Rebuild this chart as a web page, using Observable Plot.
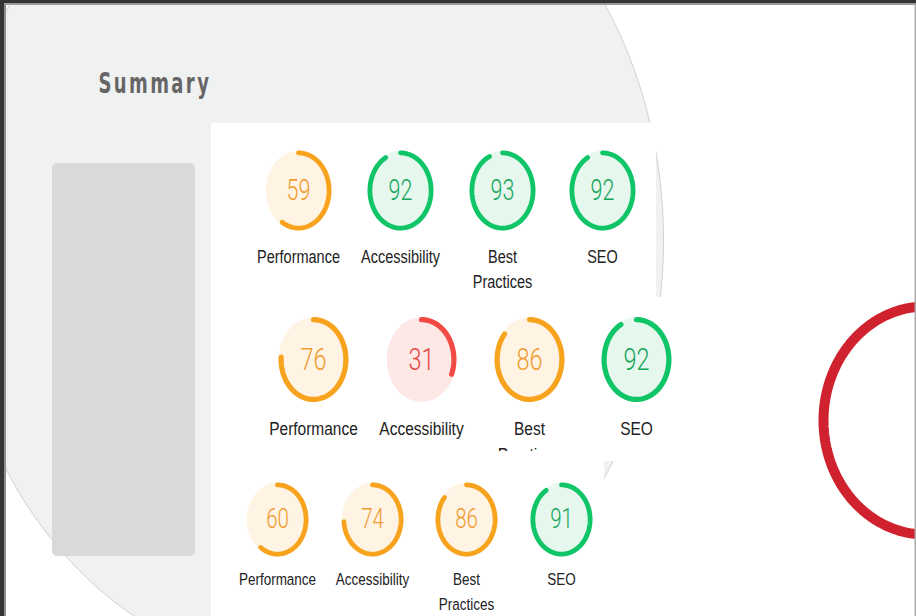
<!DOCTYPE html>
<html><head><meta charset="utf-8">
<script src="https://cdn.jsdelivr.net/npm/d3@7"></script>
<script src="https://cdn.jsdelivr.net/npm/@observablehq/plot@0.6"></script>
<style>html,body{margin:0;padding:0;background:#fff;overflow:hidden}</style>
</head><body><div id="chart"></div>
<script>
// ---- data ----
const title = "Summary";
const categories = ["Performance", "Accessibility", "Best Practices", "SEO"];
const scoresRow1 = [59, 92, 93, 92];
const scoresRow2 = [76, 31, 86, 92];
const scoresRow3 = [60, 74, 86, 91];

// ---- layout / style ----
const W = 916, H = 616;
const K = {title: 1.42, score: 1.33, label: 1.22};   // vertical stretch of the screenshot's text
const rows = [
  {scores: scoresRow1, cx: [298, 400, 502, 602], cy: 190, rx: 33, ry: 40, sw: 4.8, numSize: 21.5, labelSize: 14.5, labelY: 257, gap: 25},
  {scores: scoresRow2, cx: [313, 421, 529, 636], cy: 359, rx: 35, ry: 42.5, sw: 5.2, numSize: 23.5, labelSize: 15.5, labelY: 428, gap: 26},
  {scores: scoresRow3, cx: [277, 372, 466, 561], cy: 519, rx: 31, ry: 37, sw: 4.8, numSize: 20.5, labelSize: 13.5, labelY: 579, gap: 25}
];
const palette = {
  pass: {arc: "#10c468", fill: "#e6f7ee", text: "#15a55a"},
  average: {arc: "#f8a31d", fill: "#fff3e4", text: "#ef9c30"},
  fail: {arc: "#f24a44", fill: "#fde8e6", text: "#e4453f"}
};
const rating = s => s >= 90 ? "pass" : s >= 50 ? "average" : "fail";

function ellipsePts(cx, cy, rx, ry, n = 120, extra = {}) {
  return d3.range(n).map(i => {
    const a = (i / n) * 2 * Math.PI;
    return {x: cx + rx * Math.sin(a), y: cy - ry * Math.cos(a), ...extra};
  });
}
function arcPts(cx, cy, rx, ry, frac, extra = {}) {
  const n = Math.max(2, Math.round(frac * 120));
  return d3.range(n + 1).map(i => {
    const a = (i / n) * frac * 2 * Math.PI;
    return {x: cx + rx * Math.sin(a), y: cy - ry * Math.cos(a), ...extra};
  });
}

const bigEllipse = ellipsePts(307, 240, 356, 430, 360);
const redRing = ellipsePts(925, 420, 102, 114, 240);
const sidebar = [{x1: 52, x2: 195, y1: 163, y2: 556}];
const panelsTop = [{x1: 211, x2: 656, y1: 123, y2: 298}, {x1: 211, x2: 690, y1: 297, y2: 461}];
const panelBottom = [{x1: 211, x2: 604, y1: 451, y2: 616}];
const frame = [
  {x1: 0, x2: W, y1: 0, y2: 3.5, c: "#353535"},
  {x1: 4, x2: W, y1: 3.5, y2: 5, c: "#9c9c9c"},
  {x1: 0, x2: 4, y1: 0, y2: H, c: "#353535"},
  {x1: 4, x2: 6, y1: 5, y2: H, c: "#8e8e8e"},
  {x1: 914.5, x2: W, y1: 5, y2: H, c: "#ababab"}
];

function rowMarks(r, ri) {
  const g = r.scores.map((s, i) => ({row: ri, col: i, score: s, category: categories[i], cx: r.cx[i], rating: rating(s)}));
  const fills = g.flatMap(d => ellipsePts(d.cx, r.cy, r.rx - 0.3, r.ry - 0.3, 120, {id: d.col, c: palette[d.rating].fill}));
  const arcs = g.flatMap(d => arcPts(d.cx, r.cy, r.rx - r.sw / 2, r.ry - r.sw / 2, d.score / 100, {id: d.col, c: palette[d.rating].arc}));
  const labels = g.flatMap(d => {
    const lines = d.category === "Best Practices" ? ["Best", "Practices"] : [d.category];
    return lines.map((t, li) => ({x: d.cx, y: r.labelY + li * r.gap, t}));
  });
  return [
    Plot.line(fills, {x: "x", y: "y", z: "id", fill: "c", stroke: null, curve: "linear-closed"}),
    Plot.line(arcs, {x: "x", y: "y", z: "id", stroke: "c", strokeWidth: r.sw, strokeLinecap: "round"}),
    Plot.text(g, {x: "cx", y: () => r.cy / K.score, text: d => String(d.score), fill: d => palette[d.rating].text,
      fontSize: r.numSize, fontWeight: 300, fontFamily: "Roboto, Liberation Sans, sans-serif", textAnchor: "middle", ariaLabel: () => "score"}),
    Plot.text(labels, {x: "x", y: d => d.y / K.label, text: "t", fill: "#222", fontSize: r.labelSize,
      fontFamily: "Liberation Sans, Arial, sans-serif", textAnchor: "middle", ariaLabel: () => "label"})
  ];
}

const marks = [
  Plot.line(bigEllipse, {x: "x", y: "y", fill: "#f0f1f1", stroke: "#c6c6c6", strokeWidth: 0.8, curve: "linear-closed"}),
  Plot.rect(sidebar, {x1: "x1", x2: "x2", y1: "y1", y2: "y2", fill: "#d9d9d9", rx: 5}),
  Plot.rect(panelsTop, {x1: "x1", x2: "x2", y1: "y1", y2: "y2", fill: "#ffffff"}),
  Plot.line(redRing, {x: "x", y: "y", stroke: "#d0222e", strokeWidth: 10, curve: "linear-closed"}),
  ...rowMarks(rows[0], 0),
  ...rowMarks(rows[1], 1),
  Plot.rect(panelBottom, {x1: "x1", x2: "x2", y1: "y1", y2: "y2", fill: "#ffffff"}),
  ...rowMarks(rows[2], 2),
  Plot.text([{x: 98, y: 83, t: title}], {x: "x", y: d => d.y / K.title, text: "t", fill: "#666", fontSize: 20, fontWeight: "bold",
    fontFamily: "Liberation Sans Narrow, DejaVu Sans Condensed, Roboto, sans-serif", textAnchor: "start", ariaLabel: () => "title"}),
  Plot.rect(frame, {x1: "x1", x2: "x2", y1: "y1", y2: "y2", fill: "c"})
];

const svg = Plot.plot({
  width: W, height: H,
  margin: 0, marginTop: 0, marginRight: 0, marginBottom: 0, marginLeft: 0,
  x: {domain: [0, W], range: [0, W], axis: null},
  y: {domain: [0, H], range: [0, H], axis: null},
  color: {type: "identity"},
  style: {background: "#ffffff", overflow: "hidden"},
  marks
});

// stretch each text group vertically (positions above were pre-divided by K)
const groups = new Map();
svg.querySelectorAll("text[aria-label]").forEach(t => {
  const kind = t.getAttribute("aria-label");
  if (K[kind]) groups.set(t.parentNode, kind);
  if (kind === "title") t.style.letterSpacing = "2.4px";
});
groups.forEach((kind, g) => {
  const tr = g.getAttribute("transform") || "";
  g.setAttribute("transform", `scale(1,${K[kind]}) ${tr}`);
});
document.getElementById("chart").appendChild(svg);
</script>
</body></html>
